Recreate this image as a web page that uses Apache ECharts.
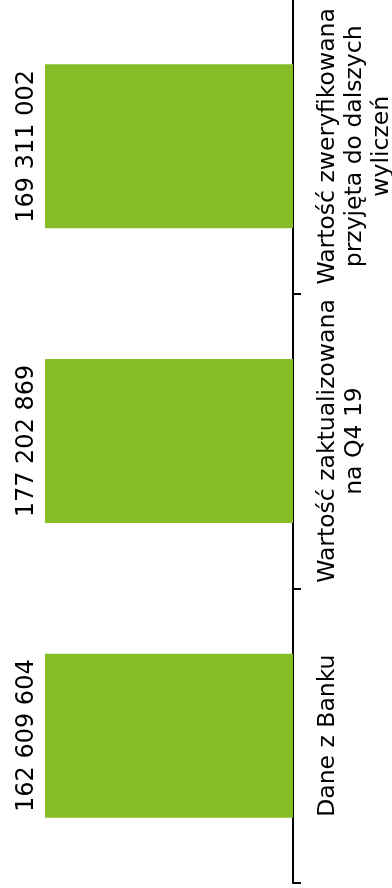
<!DOCTYPE html>
<html>
<head>
<meta charset="utf-8">
<style>
  html, body { margin: 0; padding: 0; background: #ffffff; }
  #chart { width: 392px; height: 888px; }
</style>
<script src="https://cdn.jsdelivr.net/npm/echarts@6/dist/echarts.min.js"></script>
</head>
<body>
<div id="chart"></div>
<script>
// Categories (bottom to top) and their values
const categories = [
  'Dane z Banku',
  'Wartość zaktualizowana\nna Q4 19',
  'Wartość zweryfikowana\nprzyjęta do dalszych\nwyliczeń'
];
const values = [162609604, 177202869, 169311002];

// Value axis ends below the smallest value, so every bar runs to the plot edge
const valueAxisMax = 150000000;

function formatSpaced(v) {
  return String(v).replace(/\B(?=(\d{3})+(?!\d))/g, ' ');
}

const chart = echarts.init(document.getElementById('chart'), null, { renderer: 'canvas' });
const FONT = '"DejaVu Sans", Verdana, sans-serif';

chart.setOption({
  animation: false,
  backgroundColor: '#ffffff',
  grid: {
    left: 45, right: 99, top: -1, bottom: 5,
    containLabel: false,
    outerBoundsMode: 'none'
  },
  xAxis: {
    type: 'value',
    inverse: true,
    min: 0,
    max: valueAxisMax,
    show: false
  },
  yAxis: {
    type: 'category',
    position: 'right',
    data: categories,
    axisLine: { show: true, lineStyle: { color: '#000000', width: 2 } },
    axisTick: { show: true, alignWithLabel: false, length: 8, lineStyle: { color: '#000000', width: 2 } },
    axisLabel: {
      rotate: 90,
      margin: 21,
      color: '#000000',
      fontFamily: FONT,
      fontSize: 23.5,
      lineHeight: 27,
      interval: 0
    },
    splitLine: { show: false }
  },
  series: [{
    type: 'bar',
    data: values,
    barWidth: 164,
    clip: true,
    itemStyle: { color: '#86BC25' },
    label: {
      show: true,
      position: 'left',
      distance: 6,
      rotate: 90,
      align: 'center',
      verticalAlign: 'bottom',
      color: '#000000',
      fontFamily: FONT,
      fontSize: 24,
      formatter: p => formatSpaced(p.value)
    }
  }]
});
</script>
</body>
</html>
